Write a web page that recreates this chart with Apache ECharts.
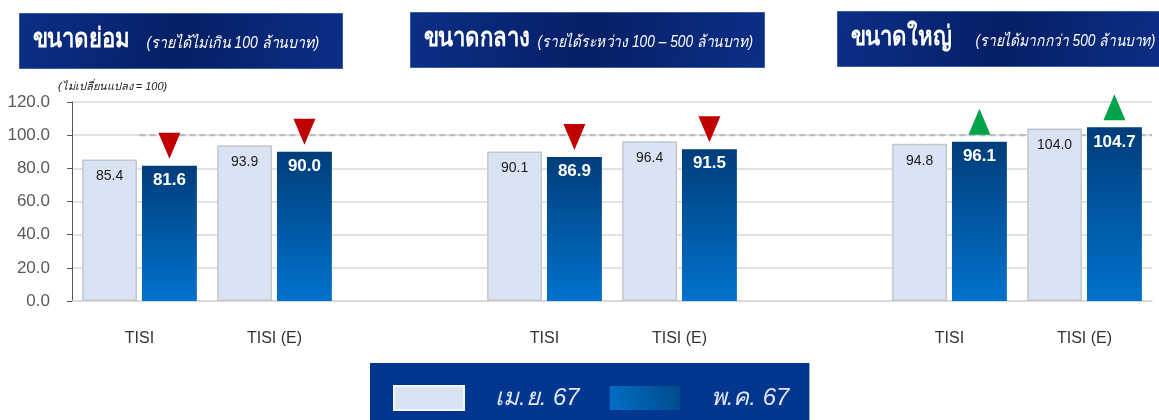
<!DOCTYPE html>
<html>
<head>
<meta charset="utf-8">
<script src="https://cdn.jsdelivr.net/npm/echarts@6/dist/echarts.min.js"></script>
<style>
  html, body { margin: 0; padding: 0; background: #fff; }
  #chart { width: 1159px; height: 420px; }
</style>
</head>
<body>
<div id="chart"></div>
<script>
// ข้อมูล
var categories = ['TISI', 'TISI (E)', '', 'TISI', 'TISI (E)', '', 'TISI', 'TISI (E)'];
var aprValues = [85.4, 93.9, '-', 90.1, 96.4, '-', 94.8, 104.0];
var mayValues = [81.6, 90.0, '-', 86.9, 91.5, '-', 96.1, 104.7];
var yTicks = [0, 20, 40, 60, 80, 100, 120];
var seriesNames = ['เม.ย. 67', 'พ.ค. 67'];
var baseLine = 100;
var baseSpan = [0.5, 8];
var headers = [
  ['ขนาดย่อม', '(รายได้ไม่เกิน 100 ล้านบาท)'],
  ['ขนาดกลาง', '(รายได้ระหว่าง 100 – 500 ล้านบาท)'],
  ['ขนาดใหญ่', '(รายได้มากกว่า 500 ล้านบาท)']
];

var numFont = '"Liberation Sans", Arial, sans-serif';
var thaiFont = '"Liberation Sans", "Noto Sans", Tahoma, sans-serif';

var blueGrad = new echarts.graphic.LinearGradient(0, 0, 0, 1, [
  { offset: 0, color: '#003d7a' },
  { offset: 1, color: '#0072cc' }
]);
var legendGrad = new echarts.graphic.LinearGradient(0, 1, 1, 0, [
  { offset: 0, color: '#0070c8' },
  { offset: 1, color: '#004a8a' }
]);
var headGrad = new echarts.graphic.LinearGradient(0, 0, 1, 1, [
  { offset: 0, color: '#0b2f86' },
  { offset: 0.5, color: '#061f66' },
  { offset: 1, color: '#0b2f86' }
]);

// ลูกศรขึ้น/ลง
var marks = [];
mayValues.forEach(function (v, i) {
  if (v === '-') return;
  var up = v > aprValues[i];
  marks.push({
    coord: [i, v],
    symbol: 'triangle',
    symbolRotate: up ? 0 : 180,
    symbolSize: [22, 26],
    symbolOffset: [0, -20],
    itemStyle: { color: up ? '#00a24a' : '#c00000' }
  });
});

// หัวข้อสามกล่อง: [x, y, กว้าง, x ของคำอธิบาย, ย่อแนวนอน]
var headBoxes = [
  [19, 13, 323, 127, 0.88],
  [410, 12, 354, 127, 0.86],
  [837, 11, 330, 138, 0.86]
];
var graphics = headers.map(function (h, i) {
  var b = headBoxes[i];
  return {
    type: 'group', left: b[0], top: b[1],
    children: [
      { type: 'rect', shape: { x: 0, y: 0, width: b[2], height: 55 },
        style: { fill: headGrad, stroke: '#3b5aa8', lineWidth: 1 } },
      { type: 'text', x: 13, y: 13, scaleX: 0.82,
        style: { text: h[0], fill: '#fff', font: 'bold 27px ' + thaiFont } },
      { type: 'text', x: b[3], y: 22, scaleX: b[4],
        style: { text: h[1], fill: '#fff', font: 'italic 16px ' + thaiFont } }
    ]
  };
});

var chart = echarts.init(document.getElementById('chart'));
chart.setOption({
  animation: false,
  textStyle: { fontFamily: thaiFont },
  graphic: graphics,
  grid: { left: 72, right: 7, top: 102, bottom: 119 },
  legend: {
    data: [
      { name: seriesNames[0], itemStyle: { borderColor: '#f4f6fb', borderWidth: 2 } },
      { name: seriesNames[1], itemStyle: { color: legendGrad } }
    ],
    left: 370, top: 363,
    padding: [22, 20, 20, 23],
    itemWidth: 70, itemHeight: 24, itemGap: 30,
    backgroundColor: '#02368f',
    icon: 'rect',
    textStyle: { color: '#dfe5f2', fontSize: 24, fontStyle: 'italic', padding: [0, 0, 0, 26] }
  },
  xAxis: [{
    type: 'category',
    data: categories,
    axisTick: { show: false },
    axisLine: { lineStyle: { color: '#d6d6d6', width: 1.5 } },
    axisLabel: { color: '#333', fontSize: 16, margin: 30, fontFamily: numFont }
  }, {
    type: 'value', min: 0, max: 8, show: false
  }],
  yAxis: {
    type: 'value',
    min: yTicks[0], max: yTicks[yTicks.length - 1], interval: 20,
    name: '(ไม่เปลี่ยนแปลง = 100)',
    nameLocation: 'end',
    nameGap: 10,
    nameTextStyle: { align: 'left', fontSize: 11, fontStyle: 'italic', color: '#222', padding: [0, 0, 0, -14] },
    axisLabel: {
      color: '#595959', fontSize: 17, margin: 22, fontFamily: numFont,
      formatter: function (v) { return v.toFixed(1); }
    },
    splitLine: { lineStyle: { color: '#d9d9d9', width: 1.5 } }
  },
  series: [{
    name: 'ref', type: 'line', xAxisIndex: 1, z: 1,
    data: [[baseSpan[0], baseLine], [baseSpan[1], baseLine]],
    symbol: 'none', silent: true,
    lineStyle: { color: '#b8b8b8', type: [6, 4], width: 2 }
  }, {
    name: seriesNames[0], type: 'bar', z: 2,
    data: aprValues,
    barGap: '9%', barCategoryGap: '15%',
    itemStyle: { color: '#dae3f3', borderColor: '#c4c8ce', borderWidth: 1.5 },
    label: {
      show: true, position: 'insideTop', distance: 10,
      color: '#1a1a1a', fontSize: 14, fontFamily: numFont,
      formatter: function (p) { return p.value.toFixed(1); }
    }
  }, {
    name: seriesNames[1], type: 'bar', z: 2,
    data: mayValues,
    itemStyle: { color: blueGrad },
    label: {
      show: true, position: 'insideTop', distance: 6,
      color: '#fff', fontSize: 17, fontWeight: 'bold', fontFamily: numFont,
      formatter: function (p) { return p.value.toFixed(1); }
    },
    markPoint: { data: marks, label: { show: false } }
  }]
});
</script>
</body>
</html>
